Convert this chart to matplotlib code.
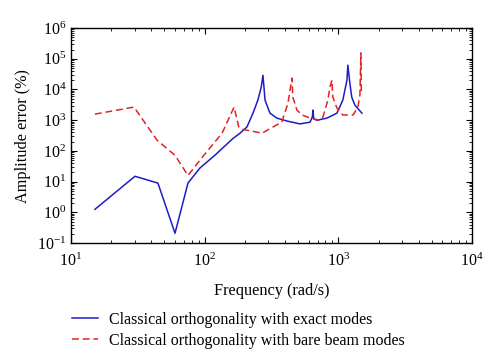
import matplotlib
matplotlib.use("Agg")
from matplotlib import pyplot as plt

plt.rcParams['font.family'] = ['Liberation Serif', 'DejaVu Serif']
plt.rcParams['mathtext.fontset'] = 'stix'

# classical orthogonality with exact modes
exact_freq = [15.1, 30.1, 44.7, 60, 75, 92, 119, 162, 184, 207, 230, 250, 265, 273, 283, 308, 347,
              413, 516, 614, 640, 646, 655, 691, 822, 976, 1080, 1160, 1178, 1220, 1260, 1330, 1500]
exact_err = [1.26, 15, 9, 0.21, 9, 27.6, 72, 250, 380, 600, 1700, 4500, 12000, 29000, 4500, 1700, 1170,
             940, 760, 860, 1300, 2150, 1100, 1000, 1170, 1700, 4500, 20000, 62000, 16000, 5600, 3100, 1700]

# classical orthogonality with bare beam modes
bare_freq = [15.1, 29.6, 44, 60, 75, 95, 119, 135, 166, 180, 190, 269, 324, 378, 420, 435, 450, 457,
             490, 535, 614, 728, 767, 835, 865, 895, 910, 976, 1080, 1290, 1400, 1450, 1475, 1485, 1500]
bare_err = [1580, 2680, 225, 72, 16, 59, 195, 380, 2680, 600, 510, 380, 600, 870, 3600, 9500, 23500, 5600,
            2140, 1480, 1170, 1000, 1270, 4500, 12000, 20000, 5600, 2500, 1480, 1480, 2680, 6500, 155000,
            9500, 9000]

fig = plt.figure(figsize=(5, 3.64), dpi=100)
ax = fig.add_axes([0.142, 0.332, 0.802, 0.591])

l1, = ax.plot(exact_freq, exact_err, color='#1c1cc8', lw=1.1)
l2, = ax.plot(bare_freq, bare_err, color='#e02424', lw=1.1, ls=(0, (4.5, 2.5)))

ax.set_xscale('log')
ax.set_yscale('log')
ax.set_xlim(10, 1e4)
ax.set_ylim(1e-1, 1e6)
ax.tick_params(which='both', direction='in', top=True, right=True, labelsize=11.5)
ax.tick_params(axis='x', which='major', pad=7)
ax.tick_params(which='major', length=4)
ax.tick_params(which='minor', length=2)
for s in ax.spines.values():
    s.set_linewidth(1.0)

ax.set_xlabel('Frequency (rad/s)', fontsize=11.7, labelpad=9)
ax.set_ylabel('Amplitude error (%)', fontsize=11.7)

fig.legend([l1, l2], ['Classical orthogonality with exact modes',
                      'Classical orthogonality with bare beam modes'],
           loc='upper left', bbox_to_anchor=(0.128, 0.165), frameon=False,
           fontsize=11.5, handlelength=1.6, handletextpad=0.7, labelspacing=0.3, borderpad=0)

fig.savefig('out.png', dpi=100)
